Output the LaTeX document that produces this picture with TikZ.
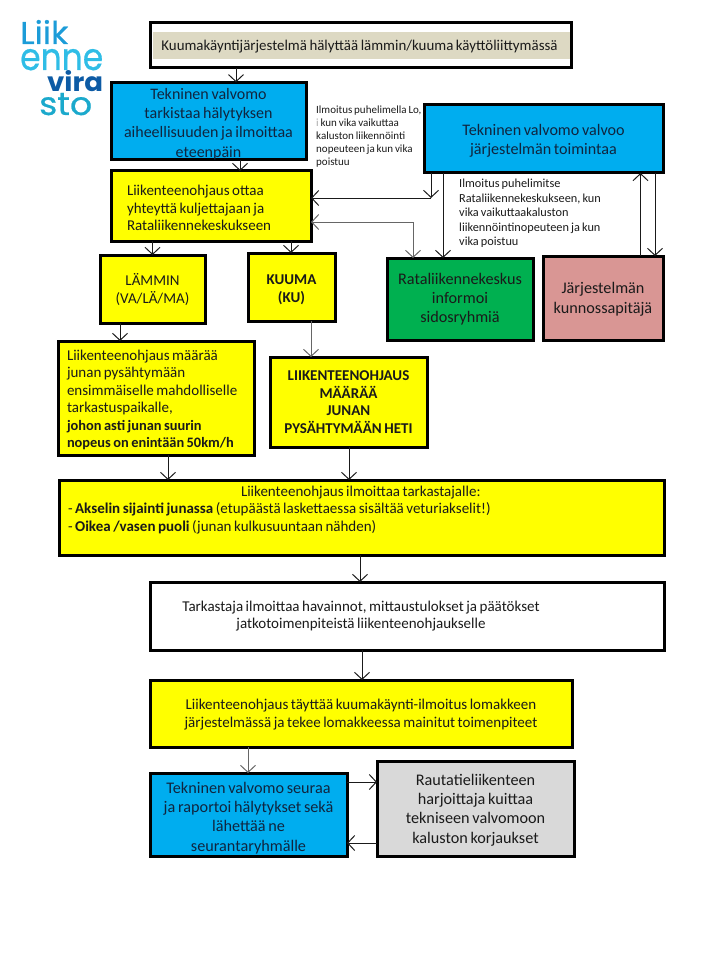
\documentclass[tikz,border=0pt]{standalone}
\usepackage{graphicx}
\usepackage{fontspec}
\setmainfont[WordSpace=0.75]{Carlito}
\newfontfamily\logofont[FakeBold=0.6]{Poppins}
\newfontfamily\logobold{Poppins}
\usetikzlibrary{arrows.meta}
\definecolor{cblue}{HTML}{00ADEF}
\definecolor{cyel}{HTML}{FFFF00}
\definecolor{cgreen}{HTML}{00B050}
\definecolor{cpink}{HTML}{D99694}
\definecolor{cgrey}{HTML}{D9D9D9}
\definecolor{cbeige}{HTML}{DDD9C3}
\definecolor{navy}{HTML}{10253F}
\definecolor{ink}{HTML}{1A1A1A}
\definecolor{loga}{HTML}{1C9CD8}
\definecolor{logb}{HTML}{2FBDE6}
\definecolor{logc}{HTML}{0D5BA5}
\definecolor{logd}{HTML}{1BA9CC}
\newcommand\fs[2]{\fontsize{#1}{#2}\selectfont}
\newcommand\dn[1]{\rule{0pt}{#1pt}}
\newcommand\bsm[1]{{\fs{14.4}{17.5}\bfseries #1}}
\tikzset{
  flowbox/.style={draw=black,line width=3pt,outer sep=0pt,inner sep=0pt,align=center,text=ink},
  yelbox/.style={flowbox,fill=cyel},
  bluebox/.style={flowbox,fill=cblue,text=navy},
  arr/.style={draw=ink,line width=1pt,-{Straight Barb[length=7pt,width=15pt,line width=1pt]}},
  grayarr/.style={arr,draw=black!60},
  small/.style={font=\fs{11}{12.9},align=left,inner sep=0pt,anchor=north west,text=ink},
  logotext/.style={anchor=base west,inner sep=0pt},
  body/.style={font=\fs{15}{17.5}},
  large/.style={font=\fs{16.2}{19.3}}
}
\newcommand\bx[7]{\node[#1,minimum width={((#4)-(#2))*1pt},minimum height={((#5)-(#3))*1pt}] (#6) at ({((#2)+(#4))/2},{((#3)+(#5))/2}) {#7};}
\begin{document}
\begin{tikzpicture}[x=1pt,y=-1pt]
\useasboundingbox (0,0) rectangle (720,960);
% logo
\node[logotext,text=loga] (logoa) at (20,44) {\resizebox{48pt}{24pt}{\logofont Liik}};
\node[logotext,text=logb] (logob) at (20,70) {\resizebox{83pt}{21pt}{\logofont enne}};
\node[logotext,text=logc] (logoc) at (47,92) {\resizebox{56pt}{21pt}{\logobold\bfseries vira}};
\node[logotext,text=logd] (logod) at (39,115) {\resizebox{53pt}{22pt}{\logofont sto}};
% boxes
\bx{flowbox,fill=white}{150}{23}{571}{68}{top}{}
\bx{flowbox,fill=cbeige,draw=none,font=\fs{14.9}{17},align=flush center,text width=417pt}{153}{32}{570}{59}{topin}{\hspace*{-4pt}\dn{13}Kuumakäyntijärjestelmä hälyttää lämmin/kuuma käyttöliittymässä}
\bx{bluebox,font=\fs{16}{19.3}}{111}{84}{306}{158}{tva}{\dn{17}Tekninen valvomo\\tarkistaa hälytyksen\\aiheellisuuden ja ilmoittaa\\eteenpäin}
\bx{yelbox,body,align=flush left,text width=168pt,inner xsep=16pt}{111}{171}{311}{241}{lob}{\dn{14.5}Liikenteenohjaus ottaa\\yhteyttä kuljettajaan ja\\Rataliikennekeskukseen}
\bx{bluebox,font=\fs{16.1}{19.5}}{424}{105}{663}{173}{tvv}{\dn{15}Tekninen valvomo valvoo\\järjestelmän toimintaa}
\bx{yelbox,body}{100}{255}{205}{323}{lam}{\dn{13.5}LÄMMIN\\(VA/LÄ/MA)}
\bx{yelbox,body}{248}{253}{335}{321}{kuu}{\dn{15}\textbf{KUUMA}\\\textbf{(KU)}}
\bx{flowbox,fill=cgreen,large}{387}{258}{533}{340}{gre}{Rataliikennekeskus\\informoi\\sidosryhmiä}
\bx{flowbox,fill=cpink,large}{543}{256}{663}{340}{pin}{\dn{13.5}Järjestelmän\\kunnossapitäjä}
\bx{yelbox,body,align=flush left,text width=178pt,inner xsep=9pt}{58}{341}{254}{455}{loc}{\dn{14}Liikenteenohjaus määrää\\junan pysähtymään\\ensimmäiselle mahdolliselle\\tarkastuspaikalle,\\\bsm{johon asti junan suurin}\\\bsm{nopeus on enintään 50km/h}}
\bx{yelbox,body}{270}{357}{427}{447}{lod}{\textbf{LIIKENTEENOHJAUS}\\\textbf{MÄÄRÄÄ}\\\textbf{JUNAN}\\\textbf{PYSÄHTYMÄÄN HETI}}
\bx{yelbox,body,align=flush left,text width=587pt,inner xsep=9pt}{59}{480}{664}{555}{loe}{\hspace*{173pt}Liikenteenohjaus ilmoittaa tarkastajalle:\\- \textbf{Akselin sijainti junassa} (etupäästä laskettaessa sisältää veturiakselit!)\\- \textbf{Oikea /vasen puoli} (junan kulkusuuntaan nähden)\\~}
\bx{flowbox,fill=white,body,align=flush center,text width=514pt}{150}{582}{664}{650}{tar}{\hspace*{-92pt}Tarkastaja ilmoittaa havainnot, mittaustulokset ja päätökset\\\hspace*{-92pt}jatkotoimenpiteistä liikenteenohjaukselle}
\bx{yelbox,body}{150}{680}{572}{747}{lof}{\dn{13}Liikenteenohjaus täyttää kuumakäynti-ilmoitus lomakkeen\\järjestelmässä ja tekee lomakkeessa mainitut toimenpiteet}
\bx{bluebox,large}{150}{773}{347}{856}{tvs}{\dn{18}Tekninen valvomo seuraa\\ja raportoi hälytykset sekä\\lähettää ne\\seurantaryhmälle}
\bx{flowbox,fill=cgrey,large}{377}{761}{574}{856}{rau}{\dn{14}Rautatieliikenteen\\harjoittaja kuittaa\\tekniseen valvomoon\\kaluston korjaukset}
% small labels
\node[small] (la) at (316,106) {Ilmoitus puhelimella Lo,\\{\color{black!35}i} kun vika vaikuttaa\\kaluston liikennöinti\\nopeuteen ja kun vika\\poistuu};
\node[small,font=\fs{12.3}{14.5}] (lb) at (459,179) {Ilmoitus puhelimitse\\Rataliikennekeskukseen, kun\\vika vaikuttaakaluston\\liikennöintinopeuteen ja kun\\vika poistuu};
% connectors
\coordinate (j1) at (431,198);
\coordinate (j2) at (413,222);
\draw[arr] (236,0|-top.south) -- (236,0|-tva.north);
\draw[arr] (240,0|-tva.south) -- (240,0|-lob.north);
\draw[arr] (152.5,0|-lob.south) -- (152.5,0|-lam.north);
\draw[arr] (291,0|-lob.south) -- (291,0|-kuu.north);
\draw[arr] (431,0|-tvv.south) -- (j1);
\draw[arr] (j1) -- (j1-|lob.east);
\draw[grayarr,{Straight Barb[length=7pt,width=15pt,line width=1pt]}-{Straight Barb[length=7pt,width=15pt,line width=1pt]}] (j2-|lob.east) -- (j2) -- (j2|-gre.north);
\draw[arr] (443,0|-tvv.south) -- (443,0|-gre.north);
\draw[arr] (640.5,0|-pin.north) -- (640.5,0|-tvv.south);
\draw[arr] (655,0|-tvv.south) -- (655,0|-pin.north);
\draw[arr] (120,0|-lam.south) -- (120,0|-loc.north);
\draw[grayarr] (311,0|-kuu.south) -- (311,0|-lod.north);
\draw[arr] (168,0|-loc.south) -- (168,0|-loe.north);
\draw[arr] (349,0|-lod.south) -- (349,0|-loe.north);
\draw[arr] (360,0|-loe.south) -- (360,0|-tar.north);
\draw[arr] (362,0|-tar.south) -- (362,0|-lof.north);
\draw[grayarr] (248,0|-lof.south) -- (248,0|-tvs.north);
\draw[arr] (tvs.east|-0,782) -- (rau.west|-0,782);
\draw[arr] (rau.west|-0,843) -- (tvs.east|-0,843);
\end{tikzpicture}
\end{document}
